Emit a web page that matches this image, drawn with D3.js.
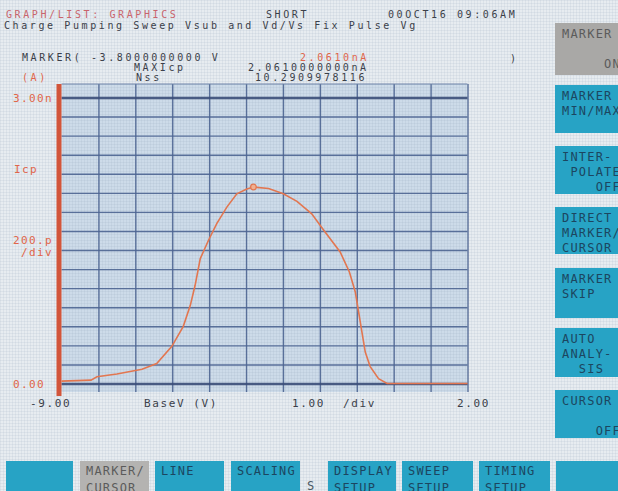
<!DOCTYPE html>
<html><head><meta charset="utf-8">
<script src="https://cdn.jsdelivr.net/npm/d3@7"></script>
<style>
html,body{margin:0;padding:0;background:#e8edf1;overflow:hidden}
svg text{font-family:"DejaVu Sans Mono",monospace;white-space:pre}
</style></head><body><svg id="c" width="618" height="491"></svg>
<script>
// ---- data ----
const voltage = [-9.0,-8.2,-8.04,-7.5,-6.82,-6.42,-6.01,-5.7,-5.51,-5.38,-5.24,-5.02,-4.79,-4.52,-4.25,-3.98,-3.8,-3.39,-2.99,-2.62,-2.22,-1.9,-1.45,-1.2,-1.04,-0.95,-0.86,-0.77,-0.64,-0.41,-0.18,2.0];
const icp     = [0.025,0.035,0.07,0.10,0.15,0.21,0.39,0.6,0.82,1.03,1.31,1.5,1.68,1.85,1.99,2.04,2.061,2.046,1.99,1.91,1.78,1.61,1.38,1.17,0.96,0.75,0.54,0.33,0.18,0.05,0.0,0.0];
const xTicks = d3.range(-9, 2.001, 1);
const yTicks = d3.range(0, 3.001, 0.2);
const markerV = -3.8, markerI = 2.061;
const headerTitle = "GRAPH/LIST: GRAPHICS";
const headerMode = "SHORT";
const headerDate = "00OCT16 09:06AM";
const subtitle = "Charge Pumping Sweep Vsub and Vd/Vs Fix Pulse Vg";
const rightKeys = [["MARKER","","     ON"],["MARKER","MIN/MAX"],["INTER-"," POLATE","    OFF"],["DIRECT","MARKER/","CURSOR"],["MARKER","SKIP"],["AUTO","ANALY-","  SIS"],["CURSOR","","    OFF"]];
const bottomKeys = [[""],["MARKER/","CURSOR"],["LINE"],["SCALING"],["DISPLAY","SETUP"],["SWEEP","SETUP"],["TIMING","SETUP"],[""]];

// ---- layout ----
const svg = d3.select("#c");
const X0 = 61.5, X1 = 467.5, Y0 = 383.5, Y3 = 97.5;
const x = d3.scaleLinear().domain([-9, 2]).range([X0, X1]);
const y = d3.scaleLinear().domain([0, 3]).range([Y0, Y3]);
const frameTop = 84, frameBot = 392;

const defs = svg.append("defs");
const pat = defs.append("pattern").attr("id","tex").attr("width",3).attr("height",3).attr("patternUnits","userSpaceOnUse");
pat.append("path").attr("d","M0,0.5H3M0.5,0V3").attr("stroke","rgba(120,140,165,0.10)").attr("stroke-width",1);

svg.append("rect").attr("width",618).attr("height",491).attr("fill","#e7ecf0");
svg.append("rect").attr("width",618).attr("height",491).attr("fill","url(#tex)");

// plot background
svg.append("rect").attr("x",X0).attr("y",frameTop).attr("width",X1-X0).attr("height",frameBot-frameTop).attr("fill","#cddbe9");
svg.append("rect").attr("x",X0).attr("y",frameTop).attr("width",X1-X0).attr("height",frameBot-frameTop).attr("fill","url(#tex)");

// grid via axes
const gx = svg.append("g").attr("transform",`translate(0,${frameBot})`)
  .call(d3.axisBottom(x).tickValues(xTicks.slice(1)).tickSize(-(frameBot-frameTop)).tickFormat(""));
const gy = svg.append("g").attr("transform",`translate(${X0},0)`)
  .call(d3.axisLeft(y).tickValues(yTicks).tickSize(-(X1-X0)).tickFormat(""));
[gx,gy].forEach(g=>{ g.select(".domain").remove(); g.selectAll(".tick line").attr("stroke","#4d6491").attr("stroke-width",1.4).attr("opacity",0.9); });
gy.selectAll(".tick").filter(d=>Math.abs(d)<1e-9||Math.abs(d-3)<1e-9).select("line").attr("stroke","#3a4c78").attr("stroke-width",2.6);
svg.append("line").attr("x1",X0).attr("x2",X1).attr("y1",frameTop).attr("y2",frameTop).attr("stroke","#6d83a8").attr("stroke-width",1);

// red Y axis bar
svg.append("rect").attr("x",X0-5).attr("y",frameTop).attr("width",5).attr("height",frameBot-frameTop+4).attr("fill","#d2553a");

// curve
const pts = voltage.map((v,i)=>[v,icp[i]]);
svg.append("path").datum(pts).attr("fill","none").attr("stroke","#e27650").attr("stroke-width",1.6)
  .attr("d", d3.line().x(d=>x(d[0])).y(d=>y(d[1])));
svg.append("circle").attr("cx",x(markerV)).attr("cy",y(markerI)).attr("r",2.8).attr("fill","#f0b090").attr("stroke","#e27650").attr("stroke-width",1.2);

// text helpers
const dark = "#3b3f49", orange = "#e0654a", pink = "#c9646c";
function t(str, tx, ty, col, ls, fs){ return svg.append("text").attr("x",tx).attr("y",ty).attr("fill",col)
  .attr("font-size",fs||10).attr("letter-spacing",ls===undefined?2.6:ls).attr("xml:space","preserve").text(str); }

// header
t(headerTitle, 6, 17.5, pink);
t(headerMode, 266, 17.5, dark);
t(headerDate, 388, 17.5, dark);
t(subtitle, 4, 29, dark);
t("MARKER( -3.8000000000 V", 22, 61, dark);
t("2.0610nA", 300, 61, orange);
t(")", 510, 62, dark);
t("MAXIcp", 134, 71, dark);
t("2.0610000000nA", 248, 71, dark);
t("(A)", 22, 81, orange);
t("Nss", 136, 81, dark);
t("10.2909978116", 255, 81, dark);

// y labels
t("3.00n", 13, y(3)+4, orange, 1.4, 11);
t("Icp", 14, 173, orange, 1.4, 11);
t("200.p", 13, 244, orange, 1.4, 11);
t(" /div", 13, 256, orange, 1.4, 11);
t("0.00", 13, y(0)+4, orange, 1.4, 11);

// x labels
t("-9.00", 30, 407, dark, 1.6, 11);
t("BaseV (V)", 144, 407, dark, 1.6, 11);
t("1.00", 292, 407, dark, 1.6, 11);
t("/div", 343, 407, dark, 1.6, 11);
t("2.00", 457, 407, dark, 1.6, 11);

// right soft keys
const rTops = [23,85,146,207,268,328,390], rH = [52,48,48,47,50,49,48];
rightKeys.forEach((lines,i)=>{
  const gray = i===0;
  svg.append("rect").attr("x",555).attr("y",rTops[i]).attr("width",80).attr("height",rH[i]).attr("fill",gray?"#a9a8a6":"#27a3c5");
  lines.forEach((s,j)=>{ t(s, 562, rTops[i]+15+j*15, gray?"#5b5b5b":"#1c4660", 1.2, 12); });
});
// bottom soft keys
const bX = [6,80,155,231,328,402,479,556], bW = [67,69,69,69,68,71,71,70];
bottomKeys.forEach((lines,i)=>{
  const gray = i===1;
  svg.append("rect").attr("x",bX[i]).attr("y",461).attr("width",bW[i]).attr("height",40).attr("fill",gray?"#b4b3b1":"#27a3c5");
  lines.forEach((s,j)=>{ t(s, bX[i]+6, 475+j*17, gray?"#5b5b5b":"#1c4660", 1.2, 12); });
});
t("S", 307, 490, "#4a5a66", 1.2, 12);
</script></body></html>
